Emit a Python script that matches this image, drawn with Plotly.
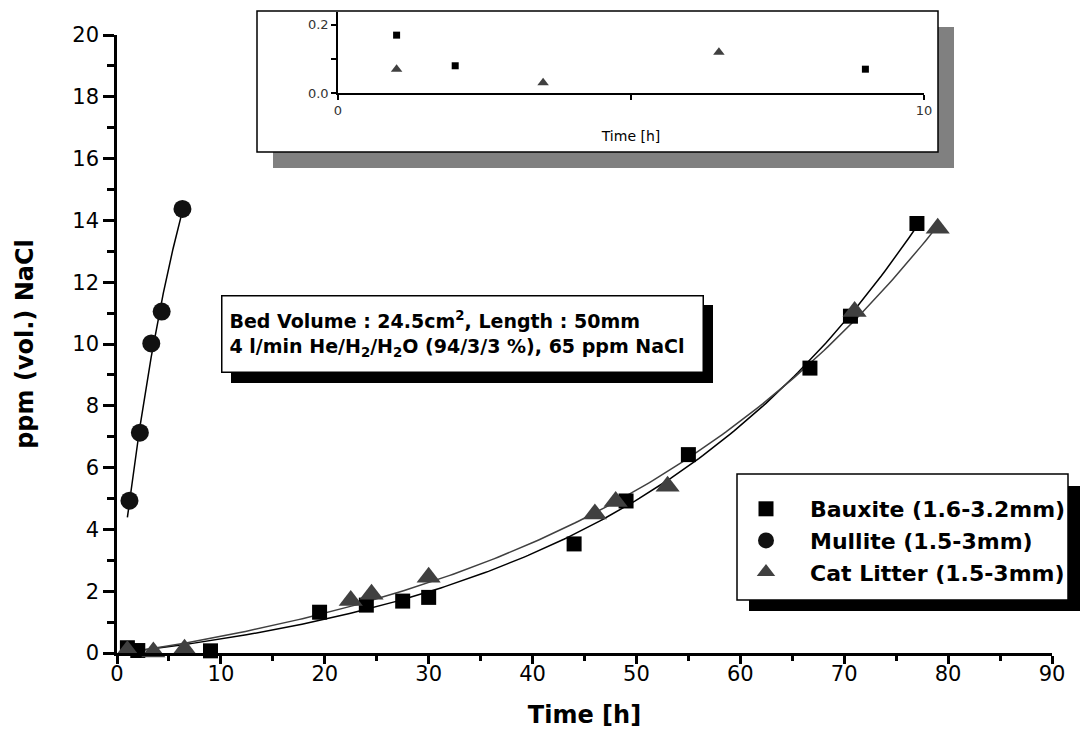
import numpy as np
import plotly.graph_objects as go

# ---------------- data ----------------
bauxite_x = [1.0, 2.0, 9.0, 19.5, 24.0, 27.5, 30.0, 44.0, 49.0, 55.0, 66.7, 70.6, 77.0]
bauxite_y = [0.17, 0.08, 0.07, 1.32, 1.55, 1.68, 1.80, 3.53, 4.92, 6.42, 9.22, 10.90, 13.90]

mullite_x = [1.2, 2.2, 3.3, 4.3, 6.3]
mullite_y = [4.93, 7.13, 10.02, 11.05, 14.37]

catlitter_x = [1.0, 3.5, 6.5, 22.5, 24.5, 30.0, 46.0, 48.0, 53.0, 71.0, 79.0]
catlitter_y = [0.07, 0.03, 0.12, 1.70, 1.90, 2.45, 4.50, 4.90, 5.40, 11.05, 13.75]

series_names = ["Bauxite (1.6-3.2mm)", "Mullite (1.5-3mm)", "Cat Litter (1.5-3mm)"]

x_ticks = [0, 10, 20, 30, 40, 50, 60, 70, 80, 90]
y_ticks = [0, 2, 4, 6, 8, 10, 12, 14, 16, 18, 20]
inset_x_ticks = [0, 10]
inset_y_ticks = [0.0, 0.2]

FONT = "DejaVu Sans, Liberation Sans, Arial, sans-serif"
TRI = "#404040"

# ---------------- exponential growth fit y = c + a*exp(b*x) ----------------
def expfit(x, y):
    x = np.asarray(x, float)
    y = np.asarray(y, float)
    best = None
    bs = np.concatenate([np.linspace(-1.0, -0.0005, 1500), np.linspace(0.0005, 1.0, 1500)])
    for b in bs:
        M = np.column_stack([np.ones_like(x), np.exp(b * x)])
        coef, *_ = np.linalg.lstsq(M, y, rcond=None)
        r = float(np.sum((M @ coef - y) ** 2))
        if best is None or r < best[0]:
            best = (r, b, coef)
    _, b, (c, a) = best
    return lambda t: c + a * np.exp(b * t)


def curve(x, y, x0=None):
    f = expfit(x, y)
    lo = min(x) if x0 is None else x0
    t = np.linspace(lo, max(x), 200)
    return t, f(t)


# pixel -> paper helpers (plot area: x 117..1052, y 10..653)
def px(x):
    return (x - 117) / 935.0


def py(y):
    return (653 - y) / 643.0


fig = go.Figure()

# fit lines
bx, by = curve(bauxite_x, bauxite_y)
mx, my = curve(mullite_x, mullite_y, x0=1.0)
cx, cy = curve(catlitter_x, catlitter_y)
fig.add_trace(go.Scatter(x=bx, y=by, mode="lines", line=dict(color="black", width=1.5),
                         showlegend=False, hoverinfo="skip"))
fig.add_trace(go.Scatter(x=cx, y=cy, mode="lines", line=dict(color=TRI, width=1.5),
                         showlegend=False, hoverinfo="skip"))
fig.add_trace(go.Scatter(x=mx, y=my, mode="lines", line=dict(color="black", width=1.5),
                         showlegend=False, hoverinfo="skip"))

# main data
fig.add_trace(go.Scatter(x=bauxite_x, y=bauxite_y, mode="markers", name=series_names[0],
                         marker=dict(symbol="square", size=15, color="black"), cliponaxis=False))
fig.add_trace(go.Scatter(x=mullite_x, y=mullite_y, mode="markers", name=series_names[1],
                         marker=dict(symbol="circle", size=18, color="#111111"), cliponaxis=False))
fig.add_trace(go.Scatter(x=catlitter_x, y=catlitter_y, mode="markers", name=series_names[2],
                         marker=dict(symbol="triangle-up", size=21, color=TRI), cliponaxis=False))

# inset data (first 10 h)
ib = [(x, y) for x, y in zip(bauxite_x, bauxite_y) if x <= 10]
ic = [(x, y) for x, y in zip(catlitter_x, catlitter_y) if x <= 10]
fig.add_trace(go.Scatter(x=[p[0] for p in ib], y=[p[1] for p in ib], mode="markers",
                         marker=dict(symbol="square", size=7, color="black"),
                         xaxis="x2", yaxis="y2", showlegend=False, cliponaxis=False))
fig.add_trace(go.Scatter(x=[p[0] for p in ic], y=[p[1] for p in ic], mode="markers",
                         marker=dict(symbol="triangle-up", size=10, color=TRI),
                         xaxis="x2", yaxis="y2", showlegend=False, cliponaxis=False))

shapes = [
    # inset shadow and frame
    dict(type="rect", xref="paper", yref="paper", x0=px(273), x1=px(954), y0=py(168), y1=py(27),
         fillcolor="#808080", line=dict(width=0), layer="below"),
    dict(type="rect", xref="paper", yref="paper", x0=px(257), x1=px(938), y0=py(152), y1=py(11),
         fillcolor="white", line=dict(color="black", width=1.5), layer="below"),
    # annotation box shadow
    dict(type="rect", xref="paper", yref="paper", x0=px(231), x1=px(713), y0=py(383), y1=py(305),
         fillcolor="black", line=dict(width=0), layer="above"),
    # legend shadow and frame
    dict(type="rect", xref="paper", yref="paper", x0=px(749), x1=px(1080), y0=py(611), y1=py(486),
         fillcolor="black", line=dict(width=0), layer="above"),
    dict(type="rect", xref="paper", yref="paper", x0=px(737), x1=px(1068), y0=py(600), y1=py(474),
         fillcolor="white", line=dict(color="black", width=1.5), layer="above"),
]

annotations = [
    dict(xref="paper", yref="paper", x=px(221), y=py(295), xanchor="left", yanchor="top",
         text="Bed Volume : 24.5cm<sup>2</sup>, Length : 50mm<br>"
              "4 l/min He/H<sub>2</sub>/H<sub>2</sub>O (94/3/3 %), 65 ppm NaCl",
         align="left", valign="middle", width=466, height=61,
         showarrow=False, bgcolor="white", bordercolor="black", borderwidth=1.5,
         borderpad=7, font=dict(family=FONT, size=19, color="black", weight="bold")),
]

axis_common = dict(showline=True, linecolor="black", ticks="outside", tickcolor="black",
                   showgrid=False, zeroline=False, mirror=False, automargin=False)

fig.update_layout(
    template="none",
    width=1083, height=746,
    margin=dict(l=117, r=31, t=10, b=93, autoexpand=False),
    paper_bgcolor="white", plot_bgcolor="rgba(0,0,0,0)",
    font=dict(family=FONT, color="black"),
    xaxis=dict(**axis_common, range=[0, 90], linewidth=2.5, tickwidth=2.5, ticklen=8,
               tickvals=x_ticks, tickfont=dict(size=21), ticklabelstandoff=-8,
               minor=dict(dtick=5, ticklen=5, tickwidth=2.5, tickcolor="black", ticks="outside"),
               title=dict(text="Time [h]", font=dict(size=24, weight="bold"), standoff=22),
               domain=[0, 1], anchor="y"),
    yaxis=dict(**axis_common, range=[0, 20], linewidth=2.5, tickwidth=2.5, ticklen=11,
               tickvals=y_ticks, tickfont=dict(size=21),
               minor=dict(dtick=1, ticklen=7, tickwidth=2.5, tickcolor="black", ticks="outside"),
               title=dict(text="ppm (vol.) NaCl", font=dict(size=24, weight="bold"), standoff=32),
               domain=[0, 618 / 643.0], anchor="x"),
    xaxis2=dict(**axis_common, range=[0, 10], linewidth=1.5, tickwidth=1.5, ticklen=5,
                tickvals=inset_x_ticks, tickfont=dict(size=13, color="#333333"),
                minor=dict(dtick=5, ticklen=5, tickwidth=1.5, tickcolor="black", ticks="outside"),
                title=dict(text="Time [h]", font=dict(size=14), standoff=14),
                domain=[px(338), px(924)], anchor="y2"),
    yaxis2=dict(**axis_common, range=[0, 0.238], linewidth=1.5, tickwidth=1.5, ticklen=5,
                tickvals=inset_y_ticks, tickformat=".1f", tickfont=dict(size=13, color="#333333"),
                minor=dict(dtick=0.1, ticklen=5, tickwidth=1.5, tickcolor="black", ticks="outside"),
                domain=[py(93), py(12)], anchor="x2"),
    legend=dict(x=px(722), y=py(488), xanchor="left", yanchor="top",
                bgcolor="rgba(0,0,0,0)", borderwidth=0,
                font=dict(family=FONT, size=22, color="black", weight="bold"),
                itemsizing="trace", itemwidth=78, tracegroupgap=0),
    shapes=shapes,
    annotations=annotations,
)

fig.write_html("out.html", config={"displayModeBar": False},
               post_script="document.body.style.margin='0px';")
